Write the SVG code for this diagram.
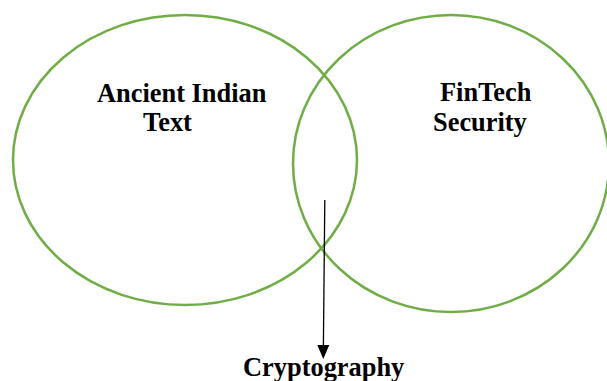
<svg xmlns="http://www.w3.org/2000/svg" width="607" height="381" viewBox="0 0 607 381">
<style>
.c{fill:none;stroke:#70AD47;stroke-width:2.5}
.t{font-family:"Liberation Serif","Times New Roman",serif;font-weight:bold;font-size:26.4px;fill:#000}
.a{stroke:#000;stroke-width:1.3;fill:none}
</style>
<rect width="607" height="381" fill="#fff"/>
<g id="ancient">
<ellipse class="c" cx="185" cy="160" rx="172" ry="145"/>
<text class="t" x="97" y="102">Ancient Indian</text>
<text class="t" x="143" y="131">Text</text>
</g>
<g id="fintech">
<ellipse class="c" cx="451" cy="163.5" rx="158" ry="148.5"/>
<text class="t" x="440" y="101">FinTech</text>
<text class="t" x="433" y="131">Security</text>
</g>
<g id="crypto">
<text class="t" x="243" y="376">Cryptography</text>
</g>
<g id="connectors">
<path class="a" d="M324.8,200 L323.4,345"/>
<path d="M317.3,345 L329.3,345 L323.3,359 Z" fill="#000"/>
</g>
</svg>
